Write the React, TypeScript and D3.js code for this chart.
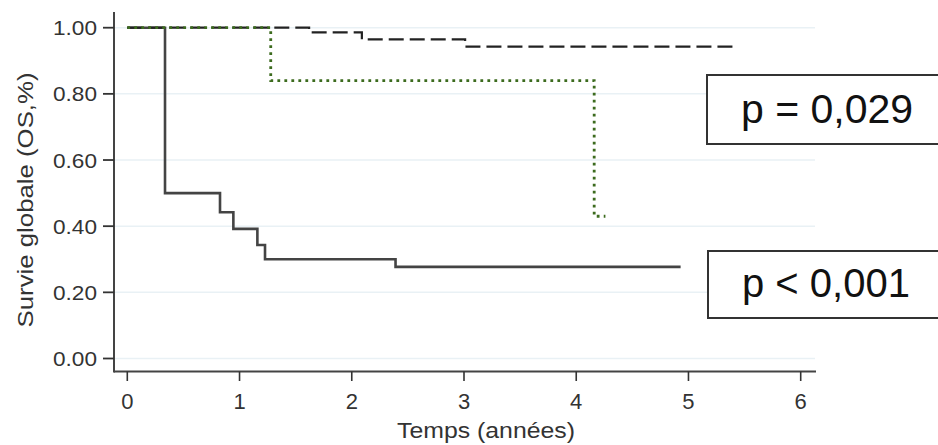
import React from "react";
import * as d3 from "d3";

const solidTimes = [0, 0.336, 0.826, 0.945, 1.159, 1.227, 2.39, 4.93];
const solidSurv = [1.0, 0.5, 0.442, 0.392, 0.343, 0.3, 0.277, 0.277];
const dashedTimes = [0, 1.62, 2.09, 3.01, 5.43];
const dashedSurv = [1.0, 0.986, 0.965, 0.943, 0.943];
const dottedTimes = [0, 1.278, 4.16, 4.26];
const dottedSurv = [1.0, 0.84, 0.43, 0.43];

const xTicks = [0, 1, 2, 3, 4, 5, 6];
const yTicks = [0, 0.2, 0.4, 0.6, 0.8, 1.0];
const yTickLabels = ["0.00", "0.20", "0.40", "0.60", "0.80", "1.00"];
const pLabels = ["p = 0,029", "p < 0,001"];

const W = 938;
const H = 445;
const FONT = "Arial, 'Liberation Sans', sans-serif";

export default function App() {
  const x = d3.scaleLinear().domain([0, 6]).range([127.3, 800.7]);
  const y = d3.scaleLinear().domain([0, 1]).range([358.5, 27.7]);
  const axisX = 114;
  const axisY = 371.5;

  const line = d3
    .line<[number, number]>()
    .x((d) => x(d[0]))
    .y((d) => y(d[1]))
    .curve(d3.curveStepAfter);

  const pts = (t: number[], s: number[]) => t.map((v, i) => [v, s[i]] as [number, number]);

  return (
    <svg
      width={W}
      height={H}
      style={{ position: "absolute", left: 0, top: 0, background: "#fff" }}
      fontFamily={FONT}
    >
      <rect x={0} y={0} width={W} height={H} fill="#fff" />
      {/* gridlines */}
      {yTicks.map((t) => (
        <line key={"g" + t} x1={axisX + 1} x2={815} y1={y(t)} y2={y(t)} stroke="#e9f1f5" strokeWidth={1.5} />
      ))}
      {/* curves */}
      <path d={line(pts(solidTimes, solidSurv)) || ""} fill="none" stroke="#444" strokeWidth={2.6} />
      <path d={line(pts(dashedTimes, dashedSurv)) || ""} fill="none" stroke="#222" strokeWidth={2.2} strokeDasharray="15,6" />
      <path d={line(pts(dottedTimes, dottedSurv)) || ""} fill="none" stroke="#3c6b1e" strokeWidth={2.8} strokeDasharray="2.8,4.2" />
      {/* y axis */}
      <line x1={axisX} x2={axisX} y1={12} y2={axisY + 1} stroke="#444" strokeWidth={2} />
      {yTicks.map((t, i) => (
        <g key={"yt" + t}>
          <line x1={103} x2={axisX} y1={y(t)} y2={y(t)} stroke="#333" strokeWidth={1.8} />
          <text x={97} y={y(t)} dy="0.36em" textAnchor="end" fontSize={21} fill="#333" textLength={44} lengthAdjust="spacingAndGlyphs">
            {yTickLabels[i]}
          </text>
        </g>
      ))}
      {/* x axis */}
      <line x1={axisX} x2={816} y1={axisY} y2={axisY} stroke="#444" strokeWidth={2} />
      {xTicks.map((t) => (
        <g key={"xt" + t}>
          <line x1={x(t)} x2={x(t)} y1={axisY} y2={381} stroke="#333" strokeWidth={1.6} />
          <text x={x(t)} y={409} textAnchor="middle" fontSize={22} fill="#333">
            {t}
          </text>
        </g>
      ))}
      {/* axis titles */}
      <text x={486} y={438} textAnchor="middle" fontSize={22} fill="#333" textLength={178} lengthAdjust="spacingAndGlyphs">
        Temps (années)
      </text>
      <text
        transform={`translate(33,200) rotate(-90)`}
        textAnchor="middle"
        fontSize={22}
        fill="#333"
        textLength={255}
        lengthAdjust="spacingAndGlyphs"
      >
        Survie globale (OS,%)
      </text>
      {/* p-value boxes */}
      <rect x={707} y={75} width={260} height={69} fill="#fff" stroke="#333" strokeWidth={2} />
      <text x={741} y={123} fontSize={41} fill="#111">
        {pLabels[0]}
      </text>
      <rect x={708} y={251} width={260} height={67} fill="#fff" stroke="#333" strokeWidth={2} />
      <text x={742} y={297} fontSize={40} fill="#111">
        {pLabels[1]}
      </text>
    </svg>
  );
}
